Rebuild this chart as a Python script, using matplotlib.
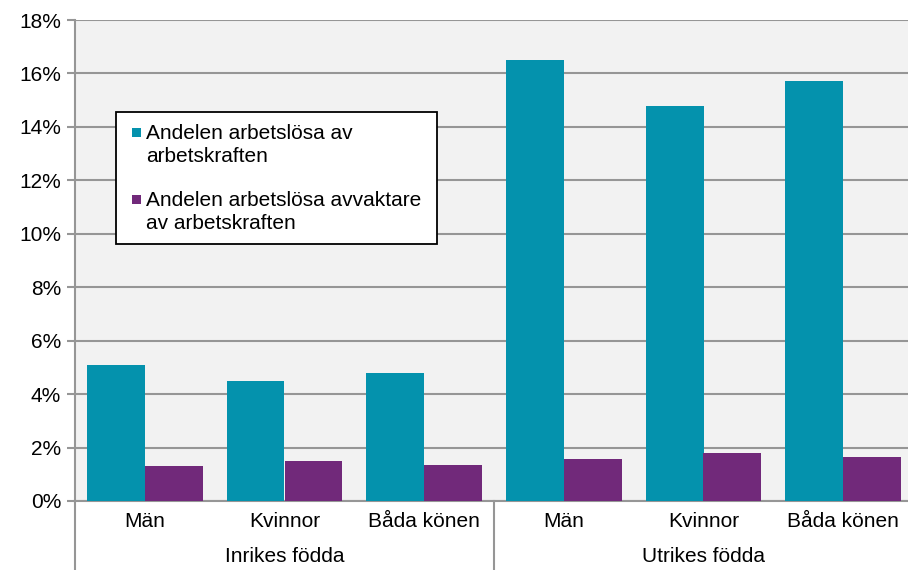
import numpy as np
import matplotlib
matplotlib.use("Agg")
import matplotlib.pyplot as plt
from matplotlib.patches import Rectangle
import matplotlib.transforms as mtransforms

plt.rcParams['font.family'] = ['Liberation Sans', 'DejaVu Sans']

# data
kategorier = ['Män', 'Kvinnor', 'Båda könen', 'Män', 'Kvinnor', 'Båda könen']
grupper = ['Inrikes födda', 'Utrikes födda']
arbetslosa = [5.1, 4.5, 4.8, 16.5, 14.8, 15.7]
avvaktare = [1.3, 1.5, 1.35, 1.57, 1.8, 1.65]
serie_namn = ['Andelen arbetslösa av\narbetskraften',
              'Andelen arbetslösa avvaktare\nav arbetskraften']
farger = ['#0492AD', '#71297A']

W, H = 908, 570
fig = plt.figure(figsize=(W / 100, H / 100), dpi=100)
ax = fig.add_axes([75 / W, 69 / H, (913 - 75) / W, 481 / H])
ax.set_facecolor('#F2F2F2')

x = np.arange(len(kategorier))
bw = 0.415
ax.bar(x - bw / 2, arbetslosa, bw, color=farger[0], zorder=3)
ax.bar(x + bw / 2, avvaktare, bw, color=farger[1], zorder=3)

ax.set_xlim(-0.5, 5.5)
ax.set_ylim(0, 18)
ax.set_yticks(np.arange(0, 19, 2))
ax.set_yticklabels([f'{v}%' for v in range(0, 19, 2)], fontsize=15)
ax.grid(axis='y', color='#969696', lw=1.5, zorder=1)
ax.set_axisbelow(True)

ax.set_xticks(x)
ax.set_xticklabels(kategorier, fontsize=15)
ax.tick_params(axis='x', length=0, pad=8)
ax.tick_params(axis='y', length=6, width=1.5, color='#969696', pad=4)

for s in ['top', 'right']:
    ax.spines[s].set_visible(False)
for s in ['left', 'bottom']:
    ax.spines[s].set_color('#969696')
    ax.spines[s].set_linewidth(1.5)

# group separators and labels below the axis
trans = mtransforms.blended_transform_factory(ax.transData, ax.transAxes)
for xs in [-0.5, 2.5]:
    ax.plot([xs, xs], [0, -0.2], color='#969696', lw=1.5, transform=trans,
            clip_on=False, zorder=5)
for i, g in enumerate(grupper):
    ax.text(1 + 3 * i, -(557 - 501) / 481, g, transform=trans, ha='center',
            va='center', fontsize=15)

# legend box
def fy(py):
    return 1 - py / H

fig.add_artist(Rectangle((116 / W, fy(244)), (437 - 116) / W, (244 - 112) / H,
                         transform=fig.transFigure, facecolor='white',
                         edgecolor='black', lw=1.3, zorder=5))
for i, (namn, c) in enumerate(zip(serie_namn, farger)):
    top = [128, 195][i]
    fig.add_artist(Rectangle((132 / W, fy(top + 9)), 8.5 / W, 9 / H,
                             transform=fig.transFigure, facecolor=c,
                             edgecolor='none', zorder=6))
    fig.text(146 / W, fy([145, 212][i]), namn, fontsize=15, va='center',
             ha='left', linespacing=1.3, zorder=7)

fig.savefig('out.png', dpi=100)
